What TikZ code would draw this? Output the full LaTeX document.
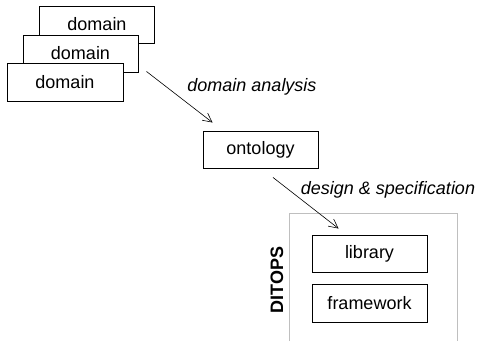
\documentclass[tikz,border=0pt]{standalone}
\usepackage{fontspec}
\setmainfont{Liberation Sans}
\usetikzlibrary{arrows.meta}
\begin{document}
\begin{tikzpicture}[x=1pt,y=-1pt,
  box/.style={draw,fill=white,line width=0.9pt,minimum width=115pt,minimum height=37pt,inner sep=0pt,font=\fontsize{18}{20}\selectfont},
  lbl/.style={font=\fontsize{18}{20}\selectfont\itshape},
  arr/.style={line width=0.6pt,-{Straight Barb[length=9pt,width=9pt,line width=0.6pt]}}]
\path[use as bounding box] (0,0) rectangle (479,341);
\node[box] (dom1) at (97,24.5) {domain};
\node[box] (dom2) at (80.5,53.5) {domain};
\node[box,minimum width=116pt,minimum height=38pt] (dom3) at (65,82) {domain};
\node[box] (onto) at (260.5,149.5) {ontology};
\draw[color=black!25,line width=0.9pt] (289,341) |- (457,213) -- (457,341);
\node[box] (lib) at (369.5,253.5) {library};
\node[box,minimum height=38pt] (fw) at (369.5,303) {framework};
\node[rotate=90,font=\fontsize{18}{20}\selectfont\bfseries] (ditops) at (277,280) {DITOPS};
\node[lbl] (l1) at (252,87) {domain analysis};
\node[lbl] (l2) at (388,190) {design \& specification};
\draw[arr] ([xshift=8pt,yshift=1pt]dom2.south east) -- ([xshift=10pt,yshift=8pt]onto.north west);
\draw[arr] ([xshift=12.5pt,yshift=-9pt]onto.south) -- ([xshift=27pt,yshift=6pt]lib.north west);
\end{tikzpicture}
\end{document}
